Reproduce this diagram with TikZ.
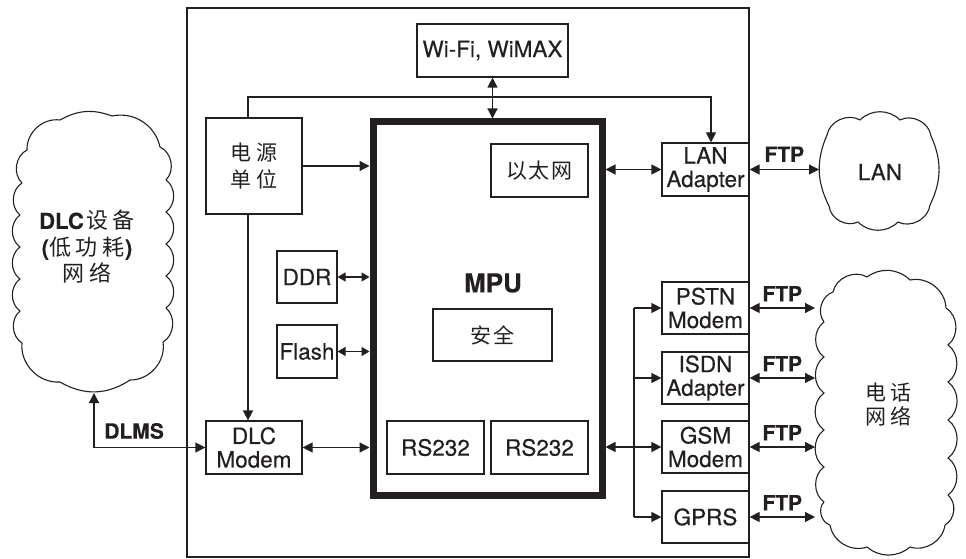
\documentclass[tikz,border=0pt]{standalone}
\usepackage{fontspec}
\setmainfont{TeX Gyre Heros}[FakeBold=0.3]
\newfontfamily\cjk{Noto Sans CJK SC}
\usetikzlibrary{arrows.meta}
\definecolor{ink}{RGB}{35,31,32}
\newcommand\gp[1]{\hspace{#1pt}}
\begin{document}
\begin{tikzpicture}[x=1pt,y=-1pt,
  every node/.style={font=\fontsize{22.5}{23.5}\selectfont, text=ink},
  bx/.style={draw=ink, line width=1.2pt, inner sep=0pt, align=center},
  ghost/.style={inner sep=0pt, outer sep=0pt},
  lbl/.style={inner sep=0pt, align=center},
  ftp/.style={inner sep=0pt, font=\fontsize{21}{22}\selectfont\bfseries},
  ln/.style={draw=ink, line width=1.2pt},
  arr/.style={ln, -{Triangle[length=10pt,width=10pt]}},
  darr/.style={ln, {Triangle[length=10pt,width=10pt]}-{Triangle[length=10pt,width=10pt]}},
  sarr/.style={ln, {Triangle[length=8pt,width=9pt]}-{Triangle[length=8pt,width=9pt]}},
  cloudline/.style={draw=ink, line width=1.1pt, line join=round}
]
\useasboundingbox (0,0) rectangle (966,559);

% outer device box
\node[bx, minimum width=562, minimum height=549] (meter) at (468,282.5) {};

% MPU
\node[draw=ink, line width=7pt, inner sep=0pt, minimum width=229, minimum height=373] (mpu) at (487.5,308.5) {};
\node[lbl, font=\fontsize{26}{28}\selectfont\bfseries] (mpulbl) at (493,283) {MPU};
\node[bx, minimum width=97, minimum height=53, font=\fontsize{21}{23}\selectfont] (eth) at (539.5,170.5) {\cjk 以\gp{1.5}太\gp{1.5}网};
\node[bx, minimum width=119, minimum height=52, font=\fontsize{21}{23}\selectfont] (sec) at (492.5,335) {\cjk 安\gp{2}全};
\node[bx, minimum width=97, minimum height=53] (rsa) at (435.5,447.5) {RS232};
\node[bx, minimum width=97, minimum height=53] (rsb) at (539.5,447.5) {RS232};

% inner left blocks
\node[bx, minimum width=151, minimum height=53] (wifi) at (492.5,50.5) {Wi-Fi, WiMAX};
\node[bx, minimum width=96, minimum height=96, font=\fontsize{21}{27.5}\selectfont] (power) at (254,166) {\cjk 电\gp{6}源\\\cjk 单\gp{6}位};
\node[bx, minimum width=60, minimum height=52] (ddr) at (307,277) {DDR};
\node[bx, minimum width=60, minimum height=53] (flash) at (307,351.5) {Flash};
\node[bx, minimum width=96, minimum height=53] (dlc) at (254,447.5) {DLC\\Modem};

% right interface blocks
\node[bx, minimum width=87, minimum height=53] (lanad) at (705.5,169.5) {LAN\\Adapter};
\node[bx, minimum width=87, minimum height=52] (pstn) at (705.5,308) {PSTN\\Modem};
\node[bx, minimum width=87, minimum height=52] (isdn) at (705.5,378) {ISDN\\Adapter};
\node[bx, minimum width=87, minimum height=52] (gsm) at (705.5,447) {GSM\\Modem};
\node[bx, minimum width=87, minimum height=52] (gprs) at (705.5,517) {GPRS};

% clouds (named frames + outlines)
\node[ghost, minimum width=162, minimum height=282] (dlcnet) at (94,252) {};
\node[ghost, minimum width=120, minimum height=118] (lannet) at (879,171) {};
\node[ghost, minimum width=142, minimum height=285] (telnet) at (886,412.5) {};

\draw[cloudline] (20,215) to[bend left=55] (22,183) to[bend left=55] (27,150)
  to[bend left=50] (60,120) to[bend left=25] (112,116) to[bend left=45] (160,147)
  to[bend left=55] (166,180) to[bend left=55] (166,212) to[bend left=55] (166,244)
  to[bend left=55] (166,276) to[bend left=55] (166,308) to[bend left=55] (163,342)
  to[bend left=50] (130,380) to[bend left=32] (60,382) to[bend left=50] (22,343)
  to[bend left=55] (20,311) to[bend left=55] (20,279) to[bend left=55] (20,247)
  to[bend left=55] (20,215);

\draw[cloudline] (827,135) to[bend left=55] (860,120) to[bend left=45] (900,120)
  to[bend left=55] (931,136) to[bend left=25] (930,205) to[bend left=55] (898,222)
  to[bend left=45] (858,222) to[bend left=55] (829,206) to[bend left=25] (827,135);

\draw[cloudline] (833,292) to[bend left=55] (867,277) to[bend left=40] (910,280)
  to[bend left=50] (946,308) to[bend left=55] (948,345) to[bend left=55] (948,382)
  to[bend left=55] (948,420) to[bend left=55] (948,458) to[bend left=55] (948,495)
  to[bend left=55] (945,525) to[bend left=50] (910,547) to[bend left=40] (867,547)
  to[bend left=50] (830,525) to[bend left=60] (824,502) to[bend left=55] (824,467)
  to[bend left=55] (824,430) to[bend left=55] (824,393) to[bend left=55] (824,357)
  to[bend left=55] (824,322) to[bend left=55] (833,292);

\node[lbl, font=\fontsize{22}{26.5}\selectfont] (dlctxt) at (87,247) {\textbf{DLC}{\cjk\gp{3}设\gp{4}备}\\\textbf{(}{\cjk 低\gp{5}功\gp{5}耗}\textbf{)}\\{\cjk 网\gp{6}络}};
\node[lbl] (lantxt) at (880,172) {LAN};
\node[lbl, font=\fontsize{21}{24}\selectfont] (teltxt) at (888,405) {\cjk 电\gp{4}话\\\cjk 网\gp{4}络};

% connectors
\coordinate (topy) at (248,97);
\draw[arr] ([xshift=-6pt]power.north) |- ([xshift=5.5pt]lanad.north |- topy) -- ([xshift=5.5pt]lanad.north);
\draw[darr] (wifi.south) -- (wifi.south |- mpu.north);
\draw[arr] (power.east) -- (power.east -| mpu.west);
\draw[arr] ([xshift=-6pt]power.south) -- ([xshift=-6pt]dlc.north);
\draw[sarr] (ddr.east) -- (ddr.east -| mpu.west);
\draw[sarr] (flash.east) -- (flash.east -| mpu.west);
\draw[darr] (dlc.east) -- (dlc.east -| mpu.west);
\draw[darr] (dlcnet.south) |- (dlc.west) node[ftp, pos=0.68, above=8pt] (dlms) {DLMS};
\draw[darr] (lanad.west -| mpu.east) -- (lanad.west);
\draw[darr] (gsm.west -| mpu.east) -- (gsm.west);

\coordinate (bus) at (634,447);
\draw[ln] (bus |- pstn.west) -- (bus |- gprs.west);
\draw[arr] (bus |- pstn.west) -- (pstn.west);
\draw[arr] (bus |- isdn.west) -- (isdn.west);
\draw[arr] (bus |- gprs.west) -- (gprs.west);

\draw[darr] (lanad.east) -- (lanad.east -| lannet.west) node[ftp, midway, above=7pt] (ftp0) {FTP};
\draw[darr] (pstn.east) -- (pstn.east -| telnet.west) node[ftp, midway, above=6pt] (ftp1) {FTP};
\draw[darr] (isdn.east) -- (isdn.east -| telnet.west) node[ftp, midway, above=6pt] (ftp2) {FTP};
\draw[darr] (gsm.east) -- (gsm.east -| telnet.west) node[ftp, midway, above=6pt] (ftp3) {FTP};
\draw[darr] (gprs.east) -- (gprs.east -| telnet.west) node[ftp, midway, above=6pt] (ftp4) {FTP};
\end{tikzpicture}
\end{document}
